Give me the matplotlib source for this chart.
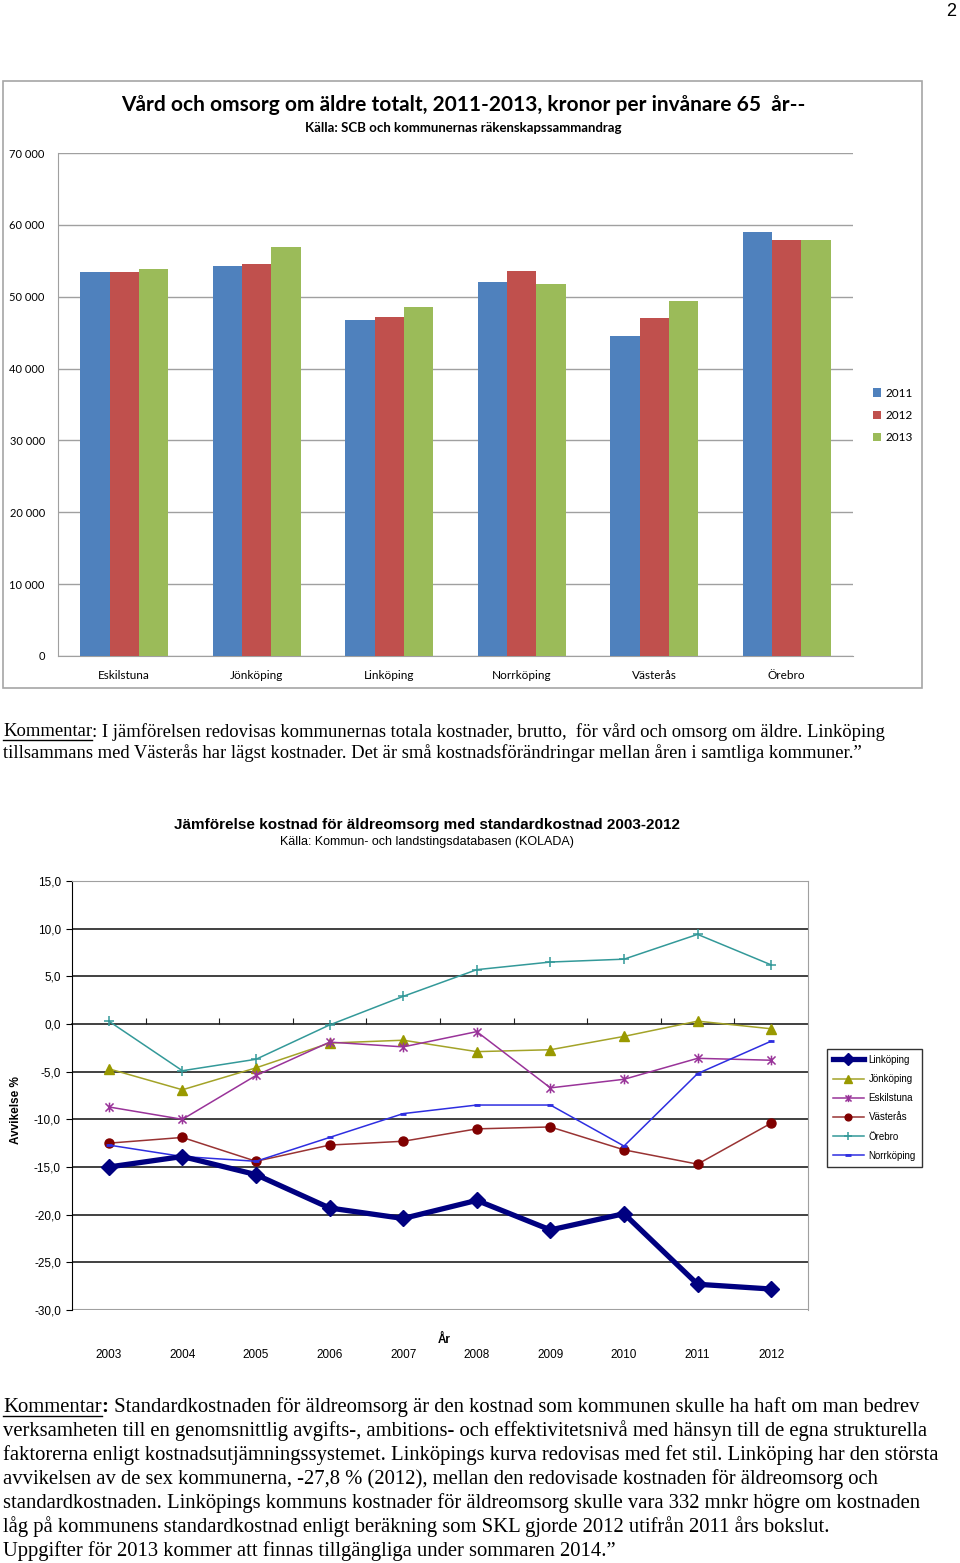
import matplotlib
matplotlib.use("Agg")
import matplotlib.pyplot as plt
import matplotlib.transforms as mtransforms
from matplotlib.patches import Rectangle
from matplotlib.lines import Line2D
from matplotlib.path import Path
from matplotlib.ticker import FuncFormatter, FixedLocator
import numpy as np

# ---------------- data ----------------
kommuner = ["Eskilstuna", "Jönköping", "Linköping", "Norrköping", "Västerås", "Örebro"]
bar_years = ["2011", "2012", "2013"]
v2011 = [53500, 54300, 46800, 52100, 44500, 59000]
v2012 = [53500, 54600, 47200, 53600, 47000, 57900]
v2013 = [53900, 56900, 48600, 51800, 49400, 57900]
bar_colors = ["#4F81BD", "#C0504D", "#9BBB59"]
bar_yticks = [0, 10000, 20000, 30000, 40000, 50000, 60000, 70000]

years = ["2003", "2004", "2005", "2006", "2007", "2008", "2009", "2010", "2011", "2012"]
linkoping = [-15.0, -13.9, -15.8, -19.3, -20.4, -18.5, -21.6, -19.9, -27.3, -27.8]
jonkoping = [-4.7, -6.9, -4.6, -2.0, -1.7, -2.9, -2.7, -1.3, 0.3, -0.5]
eskilstuna = [-8.7, -10.0, -5.4, -1.9, -2.4, -0.8, -6.7, -5.8, -3.6, -3.8]
vasteras = [-12.5, -11.9, -14.4, -12.7, -12.3, -11.0, -10.8, -13.2, -14.7, -10.4]
orebro = [0.3, -4.9, -3.7, -0.1, 2.9, 5.7, 6.5, 6.8, 9.4, 6.2]
norrkoping = [-12.7, -13.9, -14.4, -11.9, -9.4, -8.5, -8.5, -12.8, -5.2, -1.8]
line_yticks = [15, 10, 5, 0, -5, -10, -15, -20, -25, -30]

W, H = 960, 1563
fig = plt.figure(figsize=(W / 100, H / 100), dpi=100)

def fx(px):
    return px / W

def fy(py):
    return 1 - py / H

# page number
fig.text(fx(951), fy(12), "2", fontsize=13, family="Liberation Sans", ha="center", va="center")

# ---------------- bar chart ----------------
fig.patches.append(Rectangle((fx(3), fy(688)), fx(922) - fx(3), fy(81) - fy(688),
                             transform=fig.transFigure, fill=False, edgecolor="#A6A6A6", lw=1.2))
bfont = "Lato"
axb = fig.add_axes([fx(58), fy(656), fx(853) - fx(58), fy(153) - fy(656)])
x = np.arange(len(kommuner))
bw = 0.222
for i, (vals, c, lab) in enumerate(zip([v2011, v2012, v2013], bar_colors, bar_years)):
    axb.bar(x + (i - 1) * bw, vals, width=bw, color=c, label=lab, zorder=3)
axb.set_xlim(-0.5, len(kommuner) - 0.5)
axb.set_ylim(0, 70000)
axb.set_yticks(bar_yticks)
axb.yaxis.set_major_formatter(FuncFormatter(lambda v, p: f"{int(v):,}".replace(",", " ")))
axb.grid(axis="y", color="#A0A0A0", lw=1, zorder=0)
axb.set_xticks(x)
axb.set_xticklabels(kommuner)
for s in ["top", "right"]:
    axb.spines[s].set_visible(False)
for s in ["left", "bottom"]:
    axb.spines[s].set_color("#A0A0A0")
axb.tick_params(axis="both", length=0, labelsize=8, colors="black")
axb.tick_params(axis="y", pad=9.5)
axb.tick_params(axis="x", pad=10, labelsize=8.5)
for t in axb.get_xticklabels() + axb.get_yticklabels():
    t.set_family(bfont)
leg = axb.legend(loc="upper left", bbox_to_anchor=(fx(862), fy(377)), bbox_transform=fig.transFigure,
                 frameon=False, prop={"family": bfont, "size": 8.5}, handlelength=0.7,
                 handleheight=0.7, handletextpad=0.4, labelspacing=0.95)
fig.text(fx(463), fy(105), "Vård och omsorg om äldre totalt, 2011-2013, kronor per invånare 65  år--",
         family=bfont, weight="bold", fontsize=15, ha="center", va="center")
fig.text(fx(463), fy(128), "Källa: SCB och kommunernas räkenskapssammandrag",
         family=bfont, weight="bold", fontsize=9.5, ha="center", va="center")

# ---------------- line chart ----------------
lfont = "Liberation Sans"
star = Path([(-1, -1), (1, 1), (-1, 1), (1, -1), (0, -1.2), (0, 1.2)],
            [Path.MOVETO, Path.LINETO, Path.MOVETO, Path.LINETO, Path.MOVETO, Path.LINETO])
axl = fig.add_axes([fx(72), fy(1310), fx(808) - fx(72), fy(881) - fy(1310)])
xi = np.arange(len(years))
axl.plot(xi, linkoping, color="#000080", lw=3.8, marker="D", ms=8, label="Linköping", zorder=6)
axl.plot(xi, jonkoping, color="#A3A328", lw=1.1, marker="^", ms=7, mfc="#999900", mec="#999900", label="Jönköping", zorder=5)
axl.plot(xi, eskilstuna, color="#993399", lw=1.1, marker=star, ms=7, mew=1.1, mec="#993399", label="Eskilstuna", zorder=5)
axl.plot(xi, vasteras, color="#993333", lw=1.1, marker="o", ms=6.5, mfc="#800000", mec="#800000", label="Västerås", zorder=5)
axl.plot(xi, orebro, color="#339999", lw=1.1, marker="+", ms=7, mew=1.1, label="Örebro", zorder=5)
axl.plot(xi, norrkoping, color="#2E2EE0", lw=1.1, marker="_", ms=5, mew=2, label="Norrköping", zorder=5)
axl.set_xlim(-0.5, len(years) - 0.5)
axl.set_ylim(-30, 15)
axl.set_yticks(line_yticks)
axl.set_yticklabels([f"{v:.1f}".replace(".", ",") for v in line_yticks], family=lfont, fontsize=8.5)
for yv in line_yticks:
    if -30 < yv < 15 and yv != 0:
        axl.axhline(yv, color="#202020", lw=1.2, zorder=1)
for s in ["top", "right"]:
    axl.spines[s].set_color("#A0A0A0")
axl.spines["left"].set_color("black")
axl.spines["bottom"].set_position(("data", 0))
axl.spines["bottom"].set_color("#202020")
axl.spines["bottom"].set_linewidth(1.2)
axl.spines["bottom"].set_zorder(1)
axl.axhline(-30, color="#A0A0A0", lw=1.5, zorder=1)
axl.xaxis.set_major_locator(FixedLocator(np.arange(0.5, len(years) - 0.5, 1.0)))
axl.tick_params(axis="x", direction="in", length=4, labelbottom=False, color="#202020")
axl.tick_params(axis="y", direction="out", length=4, pad=4)
trans = mtransforms.blended_transform_factory(axl.transData, axl.transAxes)
for i, yr in enumerate(years):
    axl.text(i, -45.5 / 429, yr, transform=trans, ha="center", va="center", family=lfont, fontsize=8.5)
fig.text(fx(444), fy(1340), "År", family=lfont, weight="bold", fontsize=8.5, ha="center", va="center")
fig.text(fx(16), fy(1110), "Avvikelse %", family=lfont, weight="bold", fontsize=8.5,
         rotation=90, ha="center", va="center")
fig.text(fx(427), fy(825), "Jämförelse kostnad för äldreomsorg med standardkostnad 2003-2012",
         family=lfont, weight="bold", fontsize=11, ha="center", va="center")
fig.text(fx(427), fy(842), "Källa: Kommun- och landstingsdatabasen (KOLADA)",
         family=lfont, fontsize=9, ha="center", va="center")
lleg = axl.legend(loc="upper left", bbox_to_anchor=(fx(822), fy(1044)), bbox_transform=fig.transFigure,
                  prop={"family": lfont, "size": 7}, frameon=True, fancybox=False, edgecolor="black",
                  handlelength=3.2, labelspacing=0.95, borderpad=0.6, handletextpad=0.5)
lleg.get_frame().set_linewidth(1.0)
for h in lleg.legend_handles:
    try:
        h.set_markersize(h.get_markersize() * 0.75)
    except Exception:
        pass

# ---------------- comment texts ----------------
tfont = "Liberation Serif"
renderer = fig.canvas.get_renderer()

def comment_block(lines, y0, dy, bold_colon, tsize):
    for k, line in enumerate(lines):
        y = fy(y0 + k * dy)
        if k == 0:
            kt = fig.text(fx(3), y, "Kommentar", family=tfont, fontsize=tsize, va="center", ha="left")
            bb = kt.get_window_extent(renderer)
            x1 = bb.x1 / W
            fig.add_artist(Line2D([fx(3), x1], [y - 0.62 * tsize / H, y - 0.62 * tsize / H],
                                  transform=fig.transFigure, color="black", lw=1))
            rest = line[len("Kommentar"):]
            if bold_colon:
                ct = fig.text(x1, y, ":", family=tfont, fontsize=tsize, weight="bold", va="center", ha="left")
                bb2 = ct.get_window_extent(renderer)
                fig.text(bb2.x1 / W, y, rest[1:], family=tfont, fontsize=tsize, va="center", ha="left")
            else:
                fig.text(x1, y, rest, family=tfont, fontsize=tsize, va="center", ha="left")
        else:
            fig.text(fx(3), y, line, family=tfont, fontsize=tsize, va="center", ha="left")

c1 = ["Kommentar: I jämförelsen redovisas kommunernas totala kostnader, brutto,  för vård och omsorg om äldre. Linköping",
      "tillsammans med Västerås har lägst kostnader. Det är små kostnadsförändringar mellan åren i samtliga kommuner.\u201d"]
comment_block(c1, 732, 21, False, 13.4)

c2 = ["Kommentar: Standardkostnaden för äldreomsorg är den kostnad som kommunen skulle ha haft om man bedrev",
      "verksamheten till en genomsnittlig avgifts-, ambitions- och effektivitetsnivå med hänsyn till de egna strukturella",
      "faktorerna enligt kostnadsutjämningssystemet. Linköpings kurva redovisas med fet stil. Linköping har den största",
      "avvikelsen av de sex kommunerna, -27,8 % (2012), mellan den redovisade kostnaden för äldreomsorg och",
      "standardkostnaden. Linköpings kommuns kostnader för äldreomsorg skulle vara 332 mnkr högre om kostnaden",
      "låg på kommunens standardkostnad enligt beräkning som SKL gjorde 2012 utifrån 2011 års bokslut.",
      "Uppgifter för 2013 kommer att finnas tillgängliga under sommaren 2014.\u201d"]
comment_block(c2, 1407, 24, True, 14.9)

fig.savefig("out.png", dpi=100)
